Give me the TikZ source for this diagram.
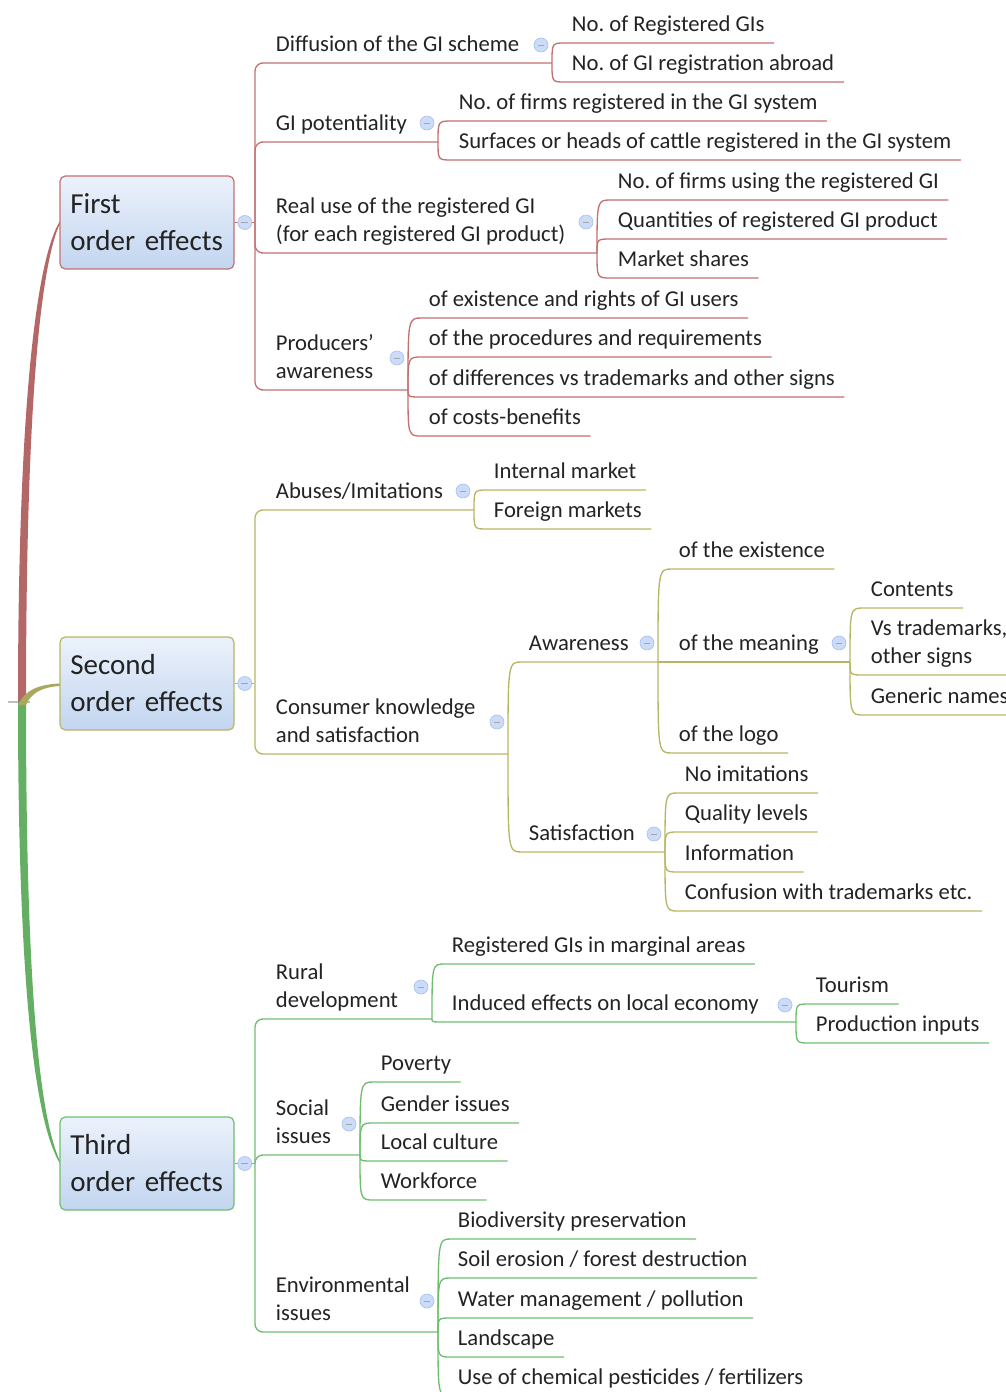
\documentclass[tikz,border=0pt]{standalone}
\usepackage{fontspec}
\setmainfont{Carlito}
\frenchspacing
\usetikzlibrary{calc}
\definecolor{texte}{RGB}{35,35,35}
\definecolor{rouge}{RGB}{196,112,112}
\definecolor{olive}{RGB}{184,182,100}
\definecolor{vert}{RGB}{110,190,110}
\definecolor{haut}{RGB}{236,242,251}
\definecolor{bas}{RGB}{194,213,240}
\definecolor{bfond}{RGB}{204,219,247}
\definecolor{bbord}{RGB}{168,194,240}
\tikzset{
  topic/.style={anchor=south west,inner xsep=5pt,inner ysep=2pt,align=left,text=texte,
    font=\fontsize{17}{21}\selectfont,execute at begin node=\strut,execute at end node=\strut},
  boite/.style={rectangle,rounded corners=4pt,minimum width=130.5pt,minimum height=69.75pt,
    text width=115pt,inner xsep=7.75pt,align=left,line width=0.9pt,text=texte,
    top color=haut,bottom color=bas,font=\fontsize{21.75}{27.75}\selectfont},
  bouton/.style={circle,minimum size=10.5pt,inner sep=0pt,fill=bfond,draw=bbord,line width=0.5pt,
    path picture={\draw[gray!70,line width=0.6pt] ([xshift=-2.5pt]path picture bounding box.center)
      -- ([xshift=2.5pt]path picture bounding box.center);}},
  br1/.style={draw=rouge,line width=1pt},
  br2/.style={draw=olive,line width=1pt},
  br3/.style={draw=vert,line width=1pt}
}
\begin{document}
\begin{tikzpicture}[x=0.75pt,y=-0.75pt] % carte mentale des effets
\useasboundingbox (0,0) rectangle (1006,1392);
\draw[gray!50,line width=1pt] (8,702) -- (30,702);
\fill[rouge!92!black] (18,702) .. controls (18,400) and (37,258) .. (60,221) -- (60,223.5) .. controls (41,264) and (26,400) .. (26,702) -- cycle;
\fill[vert!92!black] (18,702) .. controls (18,1004) and (37,1126) .. (60,1163.5) -- (60,1161) .. controls (41,1120) and (26,1004) .. (26,702) -- cycle;
\fill[olive!92!black] (18,705) .. controls (25,690) and (38,684.5) .. (60,683.5) -- (60,686) .. controls (42,687) and (31,693) .. (26,705) -- cycle;

\node[boite,draw=rouge] (first) at (147,222.5) {First\\order effects};
\node[boite,draw=olive] (second) at (147,683.5) {Second\\order effects};
\node[boite,draw=vert] (third) at (147,1163.5) {Third\\order effects};
\coordinate (s1) at (255,222.5);
\coordinate (s2) at (255,683.5);
\coordinate (s3) at (255,1163.5);
\draw[br1] (first.east) -- (s1);
\draw[br2] (second.east) -- (s2);
\draw[br3] (third.east) -- (s3);

% first order effects
\foreach \n/\y/\e/\t in {dgi/63/552/{Diffusion of the GI scheme},gip/142/438/{GI potentiality},
    rus/253/597/{Real use of the registered GI\\(for each registered GI product)},paw/390/408/{Producers'\\awareness}}
  {\node[topic] (\n) at (269,\y) {\t};
   \coordinate (\n-e) at (\e,\y);
   \draw[br1,rounded corners=6] (s1) |- (\n.south west) -- (\n-e);}
\foreach \n/\y/\t in {rg/43/{No. of Registered GIs},ra/82/{No. of GI registration abroad}}
  {\node[topic] (\n) at (565,\y) {\t};
   \draw[br1] (dgi-e) .. controls (dgi-e |- \n.south west) .. (\n.south west) -- ([xshift=2pt]\n.south east);}
\foreach \n/\y/\t in {fr/121/{No. of firms registered in the GI system},sc/160/{Surfaces or heads of cattle registered in the GI system}}
  {\node[topic] (\n) at (452,\y) {\t};
   \draw[br1] (gip-e) .. controls (gip-e |- \n.south west) .. (\n.south west) -- ([xshift=2pt]\n.south east);}
\foreach \n/\y/\t in {fu/200/{No. of firms using the registered GI},qp/239/{Quantities of registered GI product},ms/278/{Market shares}}
  {\node[topic] (\n) at (611,\y) {\t};
   \draw[br1] (rus-e) .. controls (rus-e |- \n.south west) .. (\n.south west) -- ([xshift=2pt]\n.south east);}
\foreach \n/\y/\t in {ex/318/{of existence and rights of GI users},pr/357/{of the procedures and requirements},
    di/397/{of differences vs trademarks and other signs},cb/436/{of costs-benefits}}
  {\node[topic] (\n) at (422,\y) {\t};
   \draw[br1] (paw-e) .. controls (paw-e |- \n.south west) .. (\n.south west) -- ([xshift=2pt]\n.south east);}

% second order effects
\foreach \n/\y/\e/\t in {abu/510/474/{Abuses/Imitations},cks/754/508/{Consumer knowledge\\and satisfaction}}
  {\node[topic] (\n) at (269,\y) {\t};
   \coordinate (\n-e) at (\e,\y);
   \draw[br2,rounded corners=6] (s2) |- (\n.south west) -- (\n-e);}
\foreach \n/\y/\t in {im/490/{Internal market},fm/529/{Foreign markets}}
  {\node[topic] (\n) at (487,\y) {\t};
   \draw[br2] (abu-e) .. controls (abu-e |- \n.south west) .. (\n.south west) -- ([xshift=2pt]\n.south east);}
\foreach \n/\y/\e/\t in {awa/662/658/{Awareness},sat/852/665/{Satisfaction}}
  {\node[topic] (\n) at (522,\y) {\t};
   \coordinate (\n-e) at (\e,\y);
   \draw[br2] (cks-e) .. controls (cks-e |- \n.south west) .. (\n.south west) -- (\n-e);}
\node[topic] (om) at (672,662) {of the meaning};
\coordinate (om-e) at (850,662);
\draw[br2] (awa-e) -- (om.south west) -- (om-e);
\foreach \n/\y/\t in {oe/569/{of the existence},ol/753/{of the logo}}
  {\node[topic] (\n) at (672,\y) {\t};
   \draw[br2] (awa-e) .. controls (awa-e |- \n.south west) .. (\n.south west) -- ([xshift=2pt]\n.south east);}
\foreach \n/\y/\t in {co/608/{Contents},vs/675/{Vs trademarks,\\other signs},gn/715/{Generic names}}
  {\node[topic] (\n) at (864,\y) {\t};
   \draw[br2] (om-e) .. controls (om-e |- \n.south west) .. (\n.south west) -- ([xshift=2pt]\n.south east);}
\foreach \n/\y/\t in {ni/793/{No imitations},ql/832/{Quality levels},inf/872/{Information},cf/911/{Confusion with trademarks etc.}}
  {\node[topic] (\n) at (678,\y) {\t};
   \draw[br2] (sat-e) .. controls (sat-e |- \n.south west) .. (\n.south west) -- ([xshift=2pt]\n.south east);}

% third order effects
\foreach \n/\y/\e/\t in {rur/1019/432/{Rural\\development},soc/1155/360/{Social\\issues},env/1332/438/{Environmental\\issues}}
  {\node[topic] (\n) at (269,\y) {\t};
   \coordinate (\n-e) at (\e,\y);
   \draw[br3,rounded corners=6] (s3) |- (\n.south west) -- (\n-e);}
\node[topic] (rm) at (445,964) {Registered GIs in marginal areas};
\draw[br3] (rur-e) .. controls (rur-e |- rm.south west) .. (rm.south west) -- ([xshift=2pt]rm.south east);
\node[topic] (ie) at (445,1022) {Induced effects on local economy};
\coordinate (ie-e) at (796,1022);
\draw[br3] (rur-e) .. controls (rur-e |- ie.south west) .. (ie.south west) -- (ie-e);
\foreach \n/\y/\t in {to/1004/{Tourism},pi/1043/{Production inputs}}
  {\node[topic] (\n) at (809,\y) {\t};
   \draw[br3] (ie-e) .. controls (ie-e |- \n.south west) .. (\n.south west) -- ([xshift=2pt]\n.south east);}
\foreach \n/\y/\t in {pv/1082/{Poverty},gi/1123/{Gender issues},lc/1161/{Local culture},wf/1200/{Workforce}}
  {\node[topic] (\n) at (374,\y) {\t};
   \draw[br3] (soc-e) .. controls (soc-e |- \n.south west) .. (\n.south west) -- ([xshift=2pt]\n.south east);}
\foreach \n/\y/\t in {bp/1239/{Biodiversity preservation},se/1278/{Soil erosion / forest destruction},
    wm/1318/{Water management / pollution},la/1357/{Landscape},uc/1396/{Use of chemical pesticides / fertilizers}}
  {\node[topic] (\n) at (451,\y) {\t};
   \draw[br3] (env-e) .. controls (env-e |- \n.south west) .. (\n.south west) -- ([xshift=2pt]\n.south east);}

% boutons
\foreach \b/\s in {first/s1,second/s2,third/s3}
  \node[bouton] (\b-b) at ($(\b.east)!0.5!(\s)$) {};
\foreach \n/\m in {dgi/-18,gip/-19,rus/-31,paw/-32,abu/-19,cks/-32,awa/-19,sat/-18,om/-19,
    rur/-32,ie/-17,soc/-31,env/-31}
  \node[bouton] (\n-b) at ($(\n-e)+(-11,\m)$) {};
\end{tikzpicture}
\end{document}
